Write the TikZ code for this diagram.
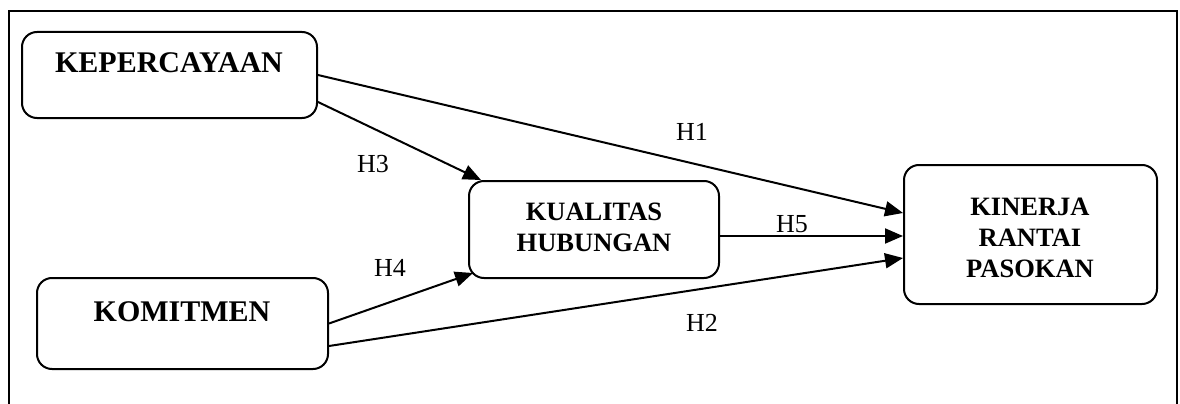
\documentclass[tikz,border=0pt]{standalone}
\usepackage{fontspec}
\setmainfont{Liberation Serif}
\usetikzlibrary{arrows.meta,calc}

\tikzset{
  varbox/.style={draw, line width=2pt, rounded corners=15pt, inner sep=0pt},
  bigtext/.style={font=\fontsize{30}{32}\selectfont\bfseries, inner sep=0pt},
  midtext/.style={font=\fontsize{26.5}{31}\selectfont\bfseries, align=center, inner sep=0pt},
  hyp/.style={font=\fontsize{26}{28}\selectfont, inner sep=0pt},
  link/.style={line width=2pt, -{Triangle[length=18pt,width=15pt]}},
  frame/.style={line width=2pt}
}

\begin{document}
\begin{tikzpicture}[x=1pt,y=-1pt]
  \useasboundingbox (0,0) rectangle (1180,404);

  % open outer frame
  \draw[frame] (9,404) -- (9,11) -- (1177,11) -- (1177,404);

  % construct boxes
  \node[varbox, minimum width=295pt, minimum height=86pt] (kep) at (169.5,75) {};
  \node[varbox, minimum width=291pt, minimum height=91pt] (kom) at (182.5,323.5) {};
  \node[varbox, minimum width=250pt, minimum height=97pt] (kua) at (594,229.5) {};
  \node[varbox, minimum width=253pt, minimum height=139pt] (kin) at (1030.5,234.5) {};

  % box titles
  \node[bigtext] (tkep) at (169,63) {KEPERCAYAAN};
  \node[bigtext] (tkom) at (182,312) {KOMITMEN};
  \node[midtext] (tkua) at (594,227) {KUALITAS\\HUBUNGAN};
  \node[midtext] (tkin) at (1030,238) {KINERJA\\RANTAI\\PASOKAN};

  % hypothesised paths
  \draw[link] (kep.east) -- ([yshift=21.5pt]kin.west);
  \draw[link] ([yshift=-27pt]kep.east) -- ([xshift=13pt]kua.north west);
  \draw[link] (kom.east) -- ([xshift=5pt,yshift=6pt]kua.south west);
  \draw[link] ([yshift=-22.5pt]kom.east) -- ([yshift=-23.5pt]kin.west);
  \draw[link] ([yshift=-6.5pt]kua.east) -- ([yshift=-1.5pt]kin.west);

  % path labels
  \node[hyp] (h1) at (692,132) {H1};
  \node[hyp] (h3) at (373,164) {H3};
  \node[hyp] (h4) at (390,268) {H4};
  \node[hyp] (h5) at (792,224) {H5};
  \node[hyp] (h2) at (702,323) {H2};
\end{tikzpicture}
\end{document}
